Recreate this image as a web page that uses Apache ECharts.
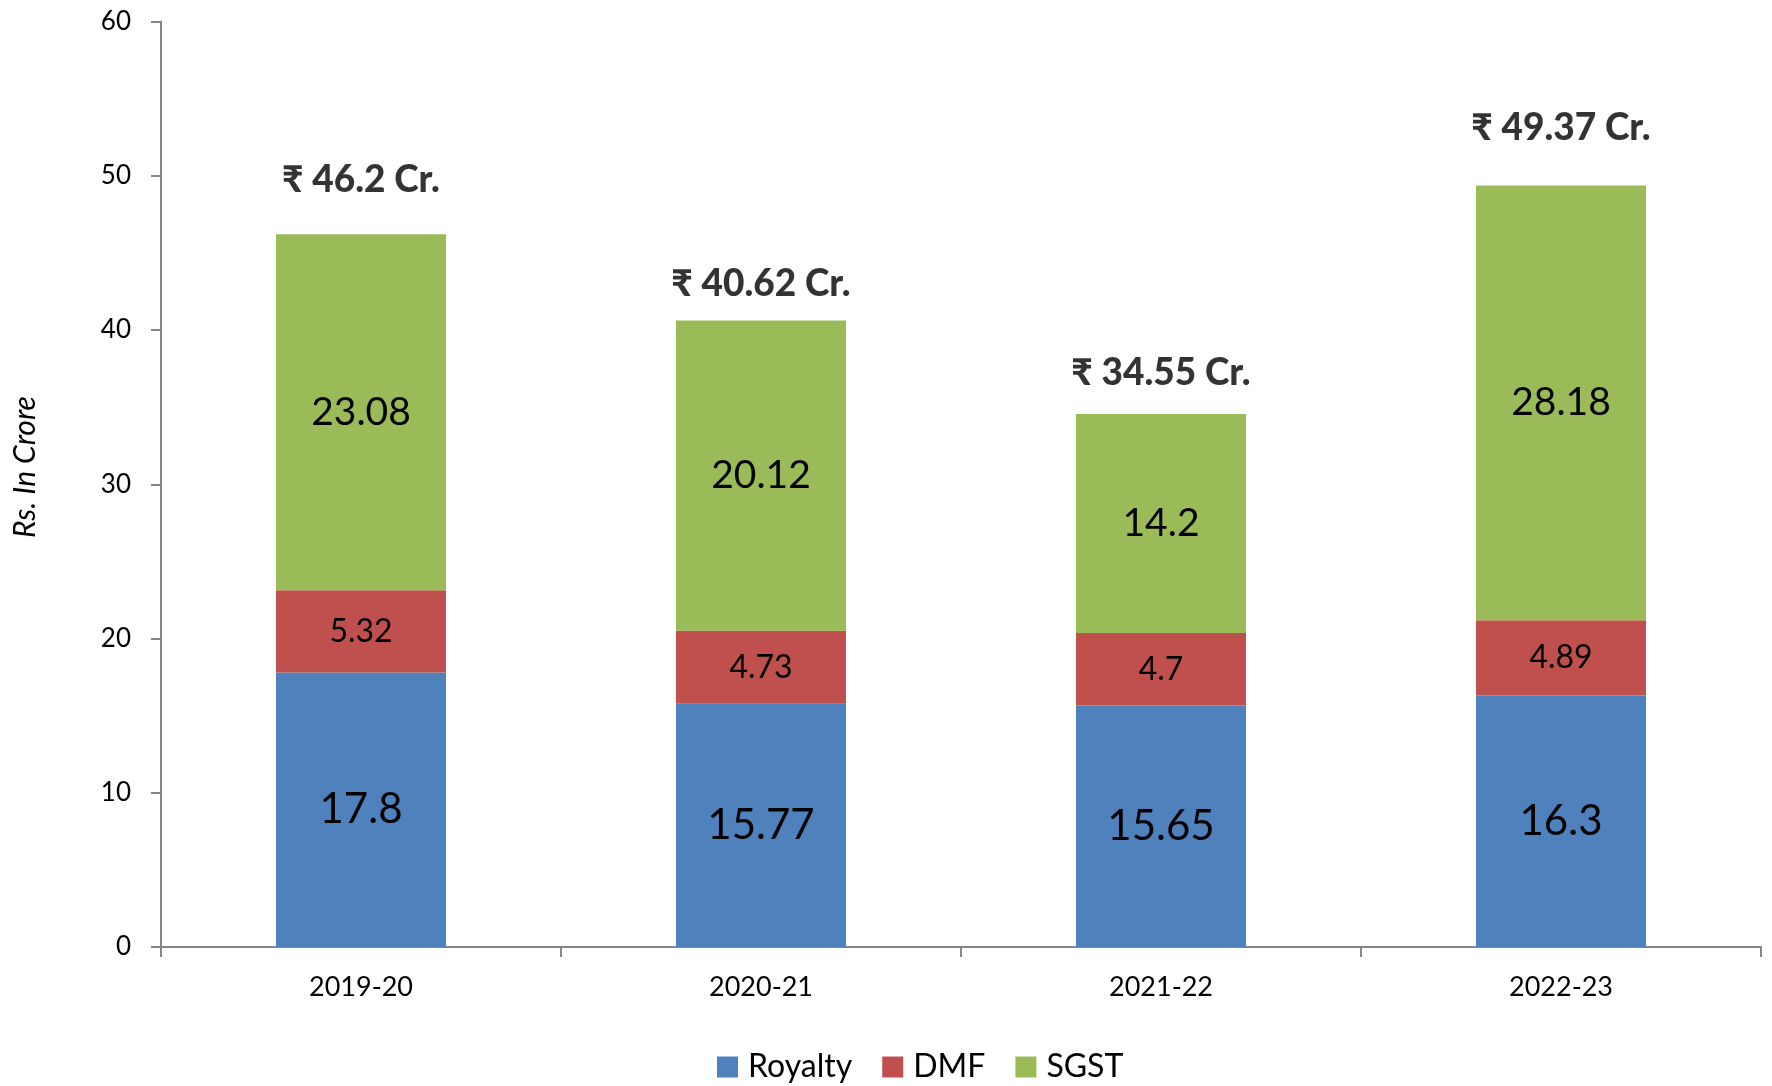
<!DOCTYPE html>
<html>
<head>
<meta charset="utf-8">
<script src="https://cdn.jsdelivr.net/npm/echarts@6/dist/echarts.min.js"></script>
<style>
  html, body { margin: 0; padding: 0; background: #fff; }
  #chart { width: 1772px; height: 1086px; }
</style>
</head>
<body>
<div id="chart"></div>
<script>
var years = ['2019-20', '2020-21', '2021-22', '2022-23'];
var royalty = [17.8, 15.77, 15.65, 16.3];
var dmf = [5.32, 4.73, 4.7, 4.89];
var sgst = [23.08, 20.12, 14.2, 28.18];
var totals = [46.2, 40.62, 34.55, 49.37];
var yTicks = [0, 10, 20, 30, 40, 50, 60];

// total labels were placed by hand in the original, gap above each bar
var totalGap = [36, 18, 23, 39];

var font = 'Lato, "Noto Sans", sans-serif';
var axisColor = '#868686';

var myChart = echarts.init(document.getElementById('chart'));

function segment(name, data, color, size) {
  return {
    name: name,
    type: 'bar',
    stack: 'total',
    barWidth: 170,
    data: data,
    itemStyle: { color: color },
    label: {
      show: true,
      position: 'inside',
      color: '#000',
      fontFamily: font,
      fontSize: size
    }
  };
}

var option = {
  backgroundColor: '#fff',
  animation: false,
  grid: {
    left: 161,
    right: 11,
    top: 21.5,
    bottom: 139
  },
  graphic: [{
    type: 'text',
    x: 25,
    y: 467,
    rotation: Math.PI / 2,
    style: {
      text: 'Rs. In Crore',
      fill: '#000',
      font: 'italic 30px ' + font,
      align: 'center',
      verticalAlign: 'middle'
    }
  }],
  legend: {
    data: ['Royalty', 'DMF', 'SGST'],
    top: 1046,
    left: 712,
    itemWidth: 21,
    itemHeight: 21,
    itemGap: 30,
    icon: 'rect',
    textStyle: {
      fontFamily: font,
      fontSize: 32,
      color: '#000',
      padding: [0, 0, 0, 5]
    }
  },
  xAxis: {
    type: 'category',
    data: years,
    axisLine: { lineStyle: { color: axisColor, width: 2 } },
    axisTick: { show: true, length: 10, lineStyle: { color: axisColor, width: 2 } },
    axisLabel: {
      color: '#000',
      fontFamily: font,
      fontSize: 27,
      margin: 27
    }
  },
  yAxis: {
    type: 'value',
    min: yTicks[0],
    max: yTicks[yTicks.length - 1],
    interval: 10,
    splitLine: { show: false },
    axisLine: { show: true, lineStyle: { color: axisColor, width: 2 } },
    axisTick: { show: true, length: 10, lineStyle: { color: axisColor, width: 2 } },
    axisLabel: {
      color: '#000',
      fontFamily: font,
      fontSize: 26,
      margin: 30
    }
  },
  series: [
    segment('Royalty', royalty, '#4F81BD', 42),
    segment('DMF', dmf, '#C0504D', 32),
    segment('SGST', sgst, '#9BBB59', 39),
    {
      name: 'Total',
      type: 'scatter',
      silent: true,
      symbolSize: 0,
      data: totals.map(function (v, i) {
        return { value: v, label: { distance: totalGap[i] } };
      }),
      label: {
        show: true,
        position: 'top',
        color: '#000',
        fontFamily: font,
        fontWeight: 900,
        fontSize: 37,
        formatter: function (p) { return '₹ ' + p.value + ' Cr.'; }
      }
    }
  ]
};

myChart.setOption(option);
window.addEventListener('resize', function () {
  myChart.resize();
});
</script>
</body>
</html>
